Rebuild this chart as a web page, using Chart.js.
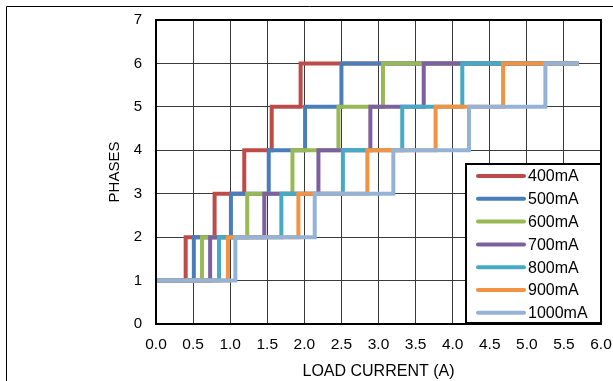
<!DOCTYPE html>
<html><head><meta charset="utf-8">
<script src="https://cdn.jsdelivr.net/npm/chart.js@4/dist/chart.umd.min.js"></script>
<style>html,body{margin:0;padding:0;background:#fff;} canvas{display:block;}</style>
</head><body>
<canvas id="c" width="613" height="381"></canvas>
<script>
// ---- data ----
const seriesLabels = ['400mA', '500mA', '600mA', '700mA', '800mA', '900mA', '1000mA'];
const phaseLevels  = [1, 2, 3, 4, 5, 6, 6];
// load current (A) where each series steps up to the phase level above
const current400mA  = [0, 0.40, 0.79, 1.19, 1.56, 1.95, 5.7];
const current500mA  = [0, 0.51, 1.01, 1.52, 2.01, 2.50, 5.7];
const current600mA  = [0, 0.62, 1.23, 1.84, 2.46, 3.06, 5.7];
const current700mA  = [0, 0.73, 1.46, 2.19, 2.89, 3.61, 5.7];
const current800mA  = [0, 0.85, 1.69, 2.52, 3.32, 4.13, 5.7];
const current900mA  = [0, 0.97, 1.92, 2.85, 3.77, 4.68, 5.7];
const current1000mA = [0, 1.07, 2.14, 3.20, 4.22, 5.25, 5.7];
const seriesColors = ['#BE4B48', '#4A7EBB', '#98B954', '#7D60A0', '#46AAC5', '#F39241', '#95B3D7'];
const xTickLabels = ['0.0','0.5','1.0','1.5','2.0','2.5','3.0','3.5','4.0','4.5','5.0','5.5','6.0'];
const yTickLabels = ['0','1','2','3','4','5','6','7'];

const allCurrents = [current400mA, current500mA, current600mA, current700mA, current800mA, current900mA, current1000mA];
const FONT = "'Liberation Sans', Arial, sans-serif";

const datasets = allCurrents.map((cur, i) => ({
  label: seriesLabels[i],
  data: cur.map((x, k) => ({ x: x, y: phaseLevels[k] })),
  showLine: true,
  stepped: 'before',
  borderColor: seriesColors[i],
  backgroundColor: seriesColors[i],
  borderWidth: 4,
  pointRadius: 0,
  fill: false,
  order: allCurrents.length - i
}));

function zeroPad(scale) {
  scale.paddingLeft = 0; scale.paddingRight = 0; scale.paddingTop = 0; scale.paddingBottom = 0;
}

const framePlugin = {
  id: 'frame',
  beforeDraw(chart) {
    const ctx = chart.ctx;
    ctx.save();
    ctx.fillStyle = '#fff';
    ctx.fillRect(0, 0, chart.width, chart.height);
    ctx.strokeStyle = '#000';
    ctx.lineWidth = 1;
    ctx.beginPath();
    ctx.moveTo(6.5, chart.height); ctx.lineTo(6.5, 6.5); ctx.lineTo(chart.width, 6.5);
    ctx.stroke();
    ctx.restore();
  },
  afterDatasetsDraw(chart) {
    const ctx = chart.ctx;
    const ca = chart.chartArea;
    ctx.save();
    ctx.strokeStyle = '#000';
    ctx.lineWidth = 2;
    ctx.strokeRect(ca.left, ca.top, ca.right - ca.left, ca.bottom - ca.top);
    // legend box inside the plot area (bottom-right)
    const bw = 135, bh = 159;
    const bx = ca.right - bw, by = ca.bottom - bh - 1;
    ctx.fillStyle = '#fff';
    ctx.fillRect(bx, by, bw, bh);
    ctx.strokeRect(bx, by, bw, bh);
    ctx.font = '16px ' + FONT;
    ctx.textBaseline = 'middle';
    ctx.textAlign = 'left';
    chart.data.datasets.forEach((ds, i) => {
      const y = by + 12 + i * 22.8;
      ctx.strokeStyle = ds.borderColor;
      ctx.lineWidth = 4;
      ctx.lineCap = 'round';
      ctx.beginPath();
      ctx.moveTo(bx + 12, y); ctx.lineTo(bx + 58, y);
      ctx.stroke();
      ctx.fillStyle = '#000';
      ctx.fillText(ds.label, bx + 62, y + 1);
    });
    ctx.restore();
  }
};

new Chart(document.getElementById('c'), {
  type: 'scatter',
  data: { datasets },
  plugins: [framePlugin],
  options: {
    responsive: false,
    animation: false,
    layout: { padding: { top: 20, right: 12, left: 0, bottom: 0 } },
    plugins: { legend: { display: false }, tooltip: { enabled: false } },
    scales: {
      x: {
        type: 'linear', min: 0, max: 6,
        afterBuildTicks(scale) { scale.ticks = xTickLabels.map(t => ({ value: parseFloat(t) })); },
        ticks: { callback: (v, i) => xTickLabels[i], color: '#000', padding: 11, maxRotation: 0, autoSkip: false, font: { family: FONT, size: 15.5 } },
        grid: { color: '#3a3a3a', lineWidth: 1, drawTicks: false },
        border: { display: true, color: '#000', width: 2 },
        title: { display: true, text: 'LOAD CURRENT (A)', color: '#000', font: { family: FONT, size: 16 }, padding: { top: 3, bottom: 0 } },
        afterFit(scale) { scale.height = 57; zeroPad(scale); }
      },
      y: {
        type: 'linear', min: 0, max: 7,
        afterBuildTicks(scale) { scale.ticks = yTickLabels.map(t => ({ value: parseFloat(t) })); },
        ticks: { callback: (v, i) => yTickLabels[i], color: '#000', padding: 14, font: { family: FONT, size: 15 } },
        grid: { color: '#3a3a3a', lineWidth: 1, drawTicks: false },
        border: { display: true, color: '#000', width: 2 },
        title: { display: true, text: 'PHASES', color: '#000', font: { family: FONT, size: 15 }, padding: { top: 106, bottom: 0 } },
        afterFit(scale) { scale.width = 156; zeroPad(scale); }
      }
    }
  }
});
</script>
</body></html>
